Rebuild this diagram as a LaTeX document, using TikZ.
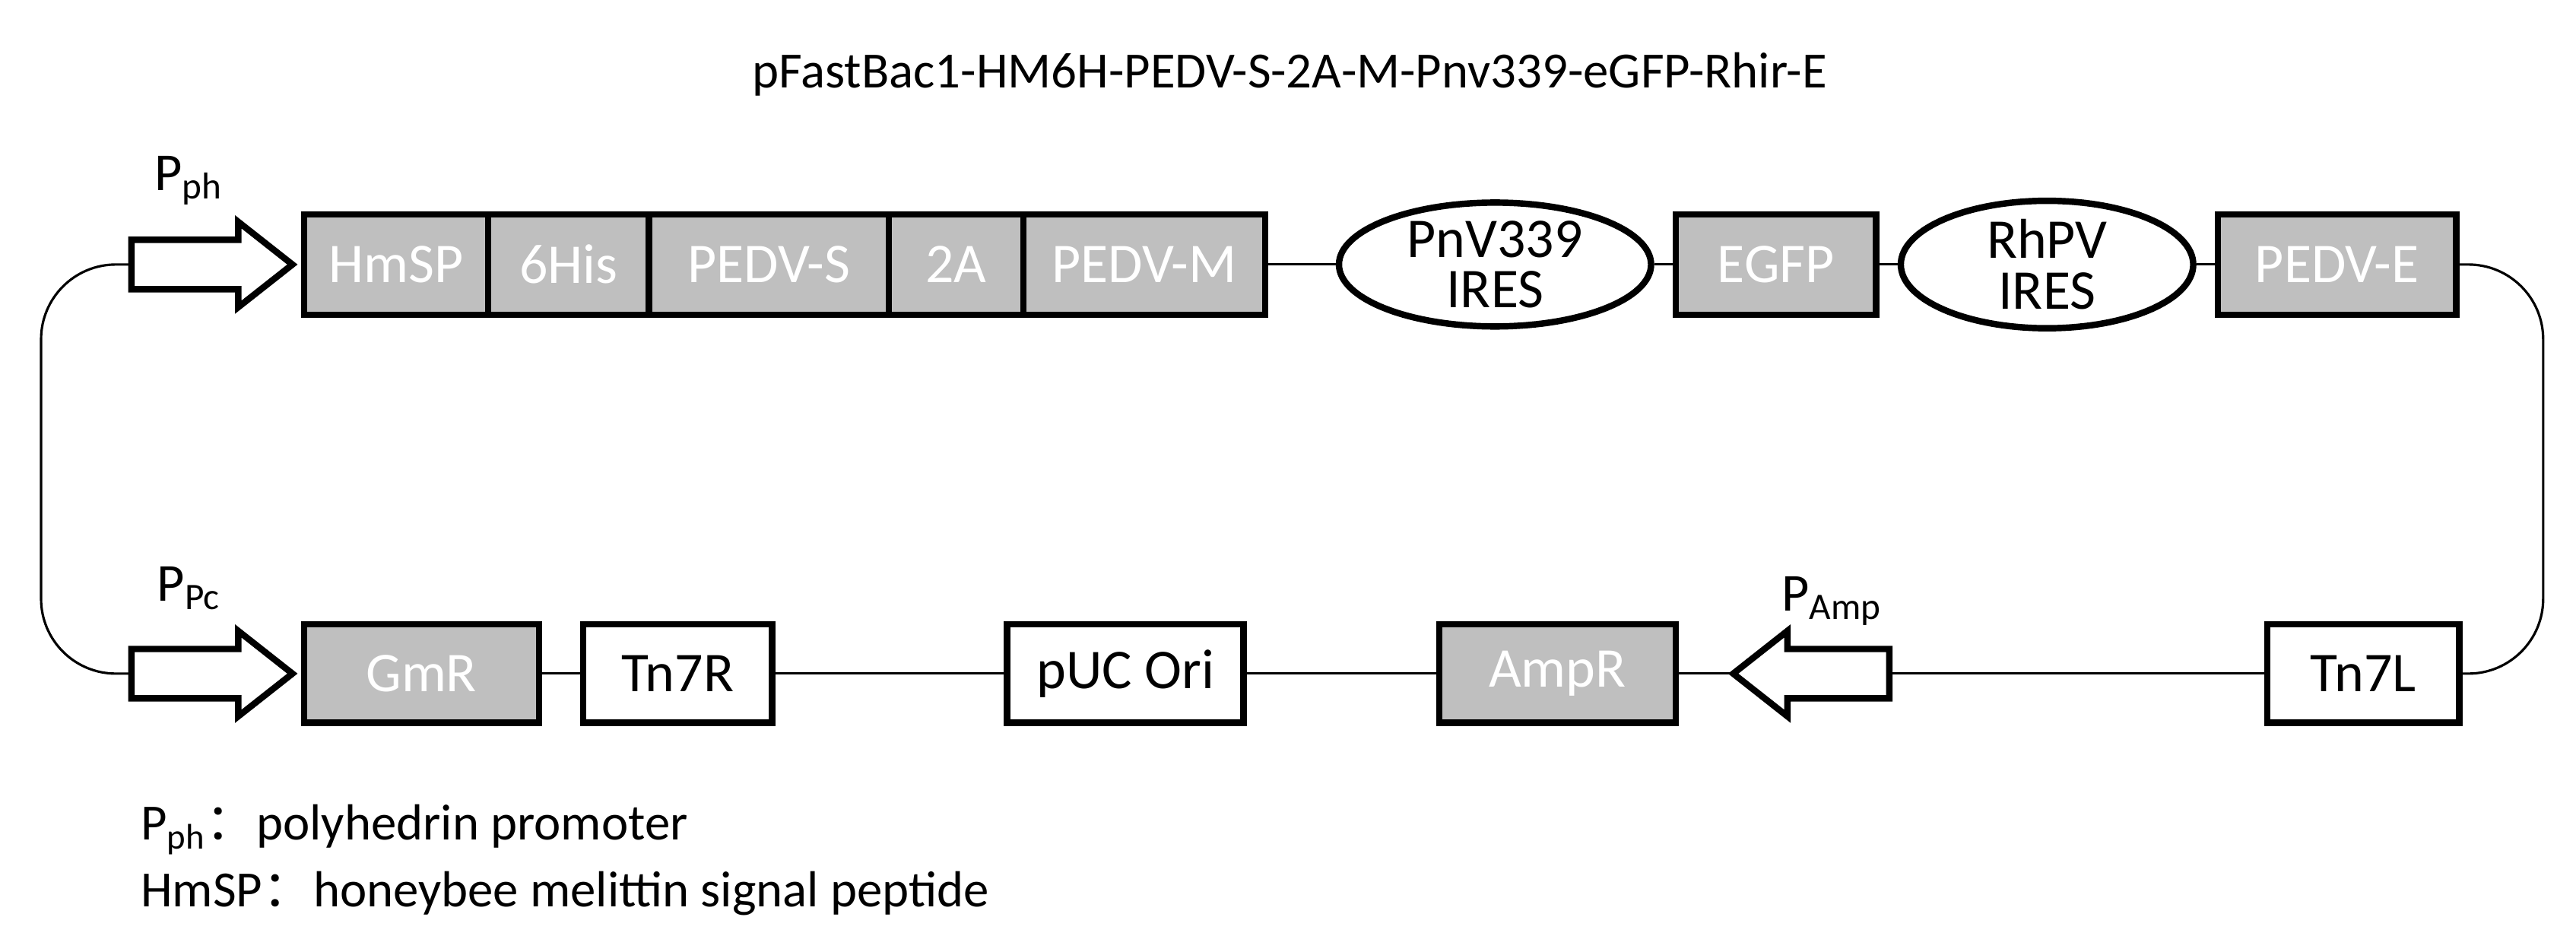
\documentclass[tikz,border=0pt]{standalone}
\usetikzlibrary{shapes.geometric}
\usepackage{fontspec}
\setmainfont{Carlito}
\newfontfamily\cjk{Noto Sans CJK SC}
\definecolor{boxgray}{HTML}{BFBFBF}
\begin{document}
\begin{tikzpicture}[x=0.021607cm,y=-0.021607cm,
  gbox/.style={draw,line width=2.4pt,fill=boxgray,text=white,minimum height=1.318cm,inner sep=0pt,font=\fontsize{21}{21}\selectfont},
  wbox/.style={draw,line width=2.4pt,fill=white,minimum height=1.296cm,inner sep=0pt,font=\fontsize{21}{21}\selectfont},
  ires/.style={draw,ellipse,line width=2.4pt,minimum height=1.34cm,inner sep=0pt,align=center,font=\fontsize{21}{19}\selectfont},
  conn/.style={line width=0.9pt},
  arr/.style={line width=2.4pt,fill=white,line join=miter},
  lbl/.style={font=\fontsize{20}{20}\selectfont}]
\useasboundingbox (0,0) rectangle (1568,579.4);
\node[font=\fontsize{19}{19}\selectfont] (title) at (785,45) {pFastBac1-HM6H-PEDV-S-2A-M-Pnv339-eGFP-Rhir-E};
% top row
\node[gbox,minimum width=2.42cm] (hmsp) at (241,161) {HmSP};
\node[gbox,minimum width=2.117cm] (his) at (346,161) {6His};
\node[gbox,minimum width=3.155cm] (pedvs) at (468,161) {PEDV-S};
\node[gbox,minimum width=1.772cm] (twoa) at (582,161) {2A};
\node[gbox,minimum width=3.176cm] (pedvm) at (696.5,161) {PEDV-M};
\node[ires,minimum width=4.105cm] (pnv) at (910,161) {PnV339\\IRES};
\node[gbox,minimum width=2.636cm] (egfp) at (1081,161) {EGFP};
\node[ires,minimum width=3.846cm] (rhpv) at (1246,161) {RhPV\\IRES};
\node[gbox,minimum width=3.133cm] (pedve) at (1422.5,161) {PEDV-E};
% bottom row
\node[gbox,minimum height=1.296cm,minimum width=3.09cm] (gmr) at (256.5,410) {GmR};
\node[wbox,minimum width=2.485cm] (tnr) at (412.5,410) {Tn7R};
\node[wbox,minimum width=3.111cm] (puc) at (685,410) {pUC Ori};
\node[gbox,minimum height=1.296cm,minimum width=3.111cm] (ampr) at (948,410) {AmpR};
\node[wbox,minimum width=2.528cm] (tnl) at (1438.5,410) {Tn7L};
% promoter arrows
\draw[arr] (80,146) -- (145,146) -- (145,135) -- (178,161) -- (145,187) -- (145,176) -- (80,176) -- cycle;
\coordinate (pphw) at (80,161);
\draw[arr] (80,395) -- (145,395) -- (145,384) -- (178,410) -- (145,436) -- (145,425) -- (80,425) -- cycle;
\coordinate (ppcw) at (80,410);
\draw[arr] (1150,395) -- (1088,395) -- (1088,384) -- (1055,410) -- (1088,436) -- (1088,425) -- (1150,425) -- cycle;
\coordinate (pampt) at (1150,410);
\coordinate (pamph) at (1055,410);
\node[lbl] (lph) at (115,110) {P\textsubscript{ph}};
\node[lbl] (lpc) at (115,358) {P\textsubscript{Pc}};
\node[lbl] (lamp) at (1115,366) {P\textsubscript{Amp}};
% connectors
\draw[conn] (pedvm.east) -- (pnv.west);
\draw[conn] (pnv.east) -- (egfp.west);
\draw[conn] (egfp.east) -- (rhpv.west);
\draw[conn] (rhpv.east) -- (pedve.west);
\draw[conn,rounded corners=28] (pedve.east) -- (1548,161) -- (1548,410) -- (tnl.east);
\draw[conn] (tnl.west) -- (pampt);
\draw[conn] (pamph) -- (ampr.east);
\draw[conn] (ampr.west) -- (puc.east);
\draw[conn] (puc.west) -- (tnr.east);
\draw[conn] (tnr.west) -- (gmr.east);
\draw[conn,rounded corners=28] (pphw) -- (25,161) -- (25,410) -- (ppcw);
% legend
\node[lbl,anchor=west,font=\fontsize{19}{19}\selectfont] (leg1) at (80,505) {P\textsubscript{ph}{\cjk ：}polyhedrin promoter};
\node[lbl,anchor=west,font=\fontsize{19}{19}\selectfont] (leg2) at (80,544) {HmSP{\cjk ：}honeybee melittin signal peptide};
\end{tikzpicture}
\end{document}
